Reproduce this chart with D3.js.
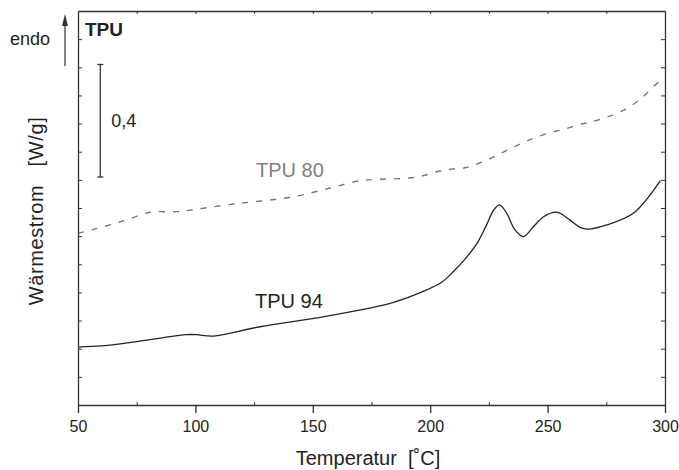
<!DOCTYPE html>
<html>
<head>
<meta charset="utf-8">
<script src="https://cdn.jsdelivr.net/npm/d3@7"></script>
<style>
  html, body { margin: 0; padding: 0; background: #fff; }
  svg { display: block; font-family: "Liberation Sans", Arial, sans-serif; }
  text { white-space: pre; }
</style>
</head>
<body>
<svg id="chart" width="679" height="470"></svg>
<script>
// ---- data ----
const tpu94T = [50, 60, 68, 85, 96, 100.5, 107.6, 127.5, 156, 184, 198.5, 205, 210, 215, 220, 224, 227, 229.5, 232.6, 236.1, 239.7, 244, 248.3, 253.9, 259.5, 263.8, 267.3, 275.2, 286.5, 298];
const tpu94V = [0.206, 0.210, 0.217, 0.238, 0.250, 0.250, 0.245, 0.278, 0.316, 0.364, 0.409, 0.437, 0.475, 0.520, 0.575, 0.640, 0.692, 0.711, 0.681, 0.622, 0.598, 0.634, 0.669, 0.685, 0.657, 0.631, 0.625, 0.640, 0.681, 0.797];
const tpu80T = [50, 63.6, 72, 80.7, 92, 100, 113.3, 141.7, 157, 170.1, 178.6, 190.6, 196.7, 202.8, 208.9, 214.8, 220.8, 226.7, 232.9, 239, 245, 251, 257, 263, 269, 275, 282.5, 290, 296.6, 298];
const tpu80V = [0.610, 0.640, 0.662, 0.685, 0.687, 0.695, 0.711, 0.740, 0.770, 0.797, 0.802, 0.806, 0.814, 0.829, 0.838, 0.843, 0.859, 0.880, 0.906, 0.930, 0.951, 0.968, 0.980, 0.995, 1.007, 1.022, 1.048, 1.090, 1.143, 1.150];
const xMajorTicks = [50, 100, 150, 200, 250, 300];
const xMinorTicks = [75, 125, 175, 225, 275];
const xTopTicks = [75, 100, 125, 150, 175, 200, 225, 250, 275];
const yTicks = [0.1, 0.2, 0.3, 0.4, 0.5, 0.6, 0.7, 0.8, 0.9, 1.0, 1.1, 1.2, 1.3];
const scaleBar = { t: 59.5, v0: 0.81, v1: 1.21, label: "0,4" };

// ---- layout ----
const W = 679, H = 470;
const m = { left: 78, right: 14, top: 11, bottom: 65 };
const svg = d3.select("#chart");
const x = d3.scaleLinear().domain([50, 300]).range([m.left, W - m.right]);
const y = d3.scaleLinear().domain([0, 1.4]).range([H - m.bottom, m.top]);
const axisColor = "#333";

// curves
const line = d3.line().x(d => x(d[0])).y(d => y(d[1])).curve(d3.curveCatmullRom.alpha(0.5));
svg.append("path").datum(d3.zip(tpu80T, tpu80V)).attr("d", line)
  .attr("fill", "none").attr("stroke", "#777").attr("stroke-width", 1.4).attr("stroke-dasharray", "6,8");
svg.append("path").datum(d3.zip(tpu94T, tpu94V)).attr("d", line)
  .attr("fill", "none").attr("stroke", "#222").attr("stroke-width", 1.3);

// axes
const gB = svg.append("g").attr("transform", `translate(0,${y(0)})`)
  .call(d3.axisBottom(x).tickValues(xMajorTicks).tickSize(8).tickPadding(8).tickSizeOuter(0));
const gBm = svg.append("g").attr("transform", `translate(0,${y(0)})`)
  .call(d3.axisTop(x).tickValues(xMinorTicks).tickSize(3).tickFormat("").tickSizeOuter(0));
const gT = svg.append("g").attr("transform", `translate(0,${y(1.4)})`)
  .call(d3.axisBottom(x).tickValues(xTopTicks).tickSize(3).tickFormat("").tickSizeOuter(0));
const gL = svg.append("g").attr("transform", `translate(${x(50)},0)`)
  .call(d3.axisRight(y).tickValues(yTicks).tickSize(4).tickFormat("").tickSizeOuter(0));
const gR = svg.append("g").attr("transform", `translate(${x(300)},0)`)
  .call(d3.axisLeft(y).tickValues(yTicks).tickSize(4).tickFormat("").tickSizeOuter(0));
[gB, gBm, gT, gL, gR].forEach(g => {
  g.selectAll(".domain").attr("stroke", axisColor).attr("stroke-width", 1.3);
  g.selectAll(".tick line").attr("stroke", axisColor).attr("stroke-width", 1);
});
gBm.select(".domain").remove();
gB.selectAll(".tick line").attr("stroke-width", 1.3);
gB.selectAll(".tick text").attr("font-size", 16).attr("fill", "#222")
  .attr("font-family", "'Liberation Sans', Arial, sans-serif");

// axis titles
svg.append("text").attr("x", 368).attr("y", 465).attr("text-anchor", "middle")
  .attr("font-size", 20).attr("fill", "#222").text("Temperatur  [˚C]");
svg.append("text").attr("transform", "translate(43,211) rotate(-90)").attr("text-anchor", "middle")
  .attr("font-size", 20).attr("fill", "#222").attr("letter-spacing", 0.6).text("Wärmestrom   [W/g]");

// annotations
svg.append("text").attr("x", 85).attr("y", 36).attr("font-size", 19).attr("font-weight", "bold")
  .attr("fill", "#222").text("TPU");
svg.append("text").attr("x", 10).attr("y", 45).attr("font-size", 18).attr("fill", "#222").text("endo");
svg.append("line").attr("x1", 65).attr("x2", 65).attr("y1", 66).attr("y2", 24)
  .attr("stroke", "#333").attr("stroke-width", 1.2);
svg.append("path").attr("d", "M65,14 L62,26 L68,26 Z").attr("fill", "#333");

// scale bar
const sbx = x(scaleBar.t);
svg.append("line").attr("x1", sbx).attr("x2", sbx).attr("y1", y(scaleBar.v1)).attr("y2", y(scaleBar.v0))
  .attr("stroke", "#333").attr("stroke-width", 1.3);
[scaleBar.v0, scaleBar.v1].forEach(v => svg.append("line").attr("x1", sbx - 3).attr("x2", sbx + 3)
  .attr("y1", y(v)).attr("y2", y(v)).attr("stroke", "#333").attr("stroke-width", 1.3));
svg.append("text").attr("x", sbx + 11).attr("y", (y(scaleBar.v0) + y(scaleBar.v1)) / 2 + 6)
  .attr("font-size", 18).attr("fill", "#222").text(scaleBar.label);

// series labels
svg.append("text").attr("x", 256).attr("y", 176.5).attr("font-size", 20).attr("fill", "#808080").text("TPU 80");
svg.append("text").attr("x", 255).attr("y", 308).attr("font-size", 20).attr("fill", "#222").text("TPU 94");
</script>
</body>
</html>
